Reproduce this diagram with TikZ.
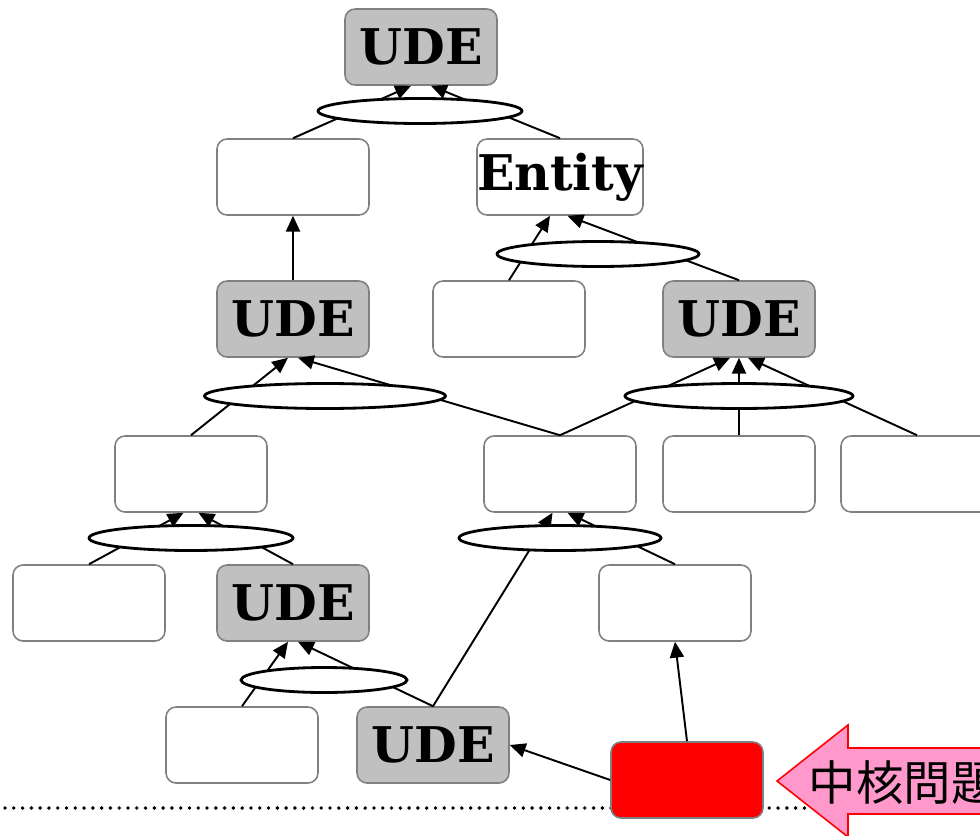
\documentclass[tikz,border=0pt]{standalone}
\usepackage{fontspec}
\setmainfont{DejaVu Serif}
\newfontfamily\cjk{Noto Sans CJK JP}
\usepackage{tikz}
\usetikzlibrary{shapes,arrows.meta,positioning}
\definecolor{boxgray}{HTML}{808080}
\definecolor{udegray}{HTML}{C0C0C0}
\definecolor{notepink}{HTML}{FF99CC}

\begin{document}
\begin{tikzpicture}[x=0.02cm, y=-0.02cm, line width=1.1pt,
	leads/.style={-{Triangle[length=9pt,width=8pt]}},
	box/.style={draw=boxgray, line width=0.9pt, rounded corners=0.2cm, fill=white, minimum width=3.04cm, minimum height=1.52cm, inner sep=0pt, font=\bfseries\fontsize{28}{30}\selectfont},
	ude/.style={box, fill=udegray},
	andlink/.style={ellipse, draw, line width=1.6pt, fill=white, inner sep=0pt, minimum height=0.5cm}]
	\useasboundingbox (0,0) rectangle (980,835);
	\draw [line width=2.2pt, line cap=round, dash pattern=on 0pt off 5pt] (5,808) -- (850,808);
	% effect-cause-effect boxes
	\node [ude] (top) at (421,47) {UDE};
	\node [box] (b1) at (293,177) {};
	\node [box] (entity) at (560,177) {Entity};
	\node [ude] (ude2) at (293,319) {UDE};
	\node [box] (b2) at (509,319) {};
	\node [ude] (ude3) at (739,319) {UDE};
	\node [box] (b3) at (191,474) {};
	\node [box] (b4) at (560,474) {};
	\node [box] (b5) at (739,474) {};
	\node [box] (b6) at (917,474) {};
	\node [box] (b7) at (89,603) {};
	\node [ude] (ude4) at (293,603) {UDE};
	\node [box] (b8) at (675,603) {};
	\node [box] (b9) at (242,745) {};
	\node [ude] (ude5) at (433,745) {UDE};
	\node [box, fill=red] (core) at (687,780) {};
	% arrows
	\draw [leads] (b1.north) -- ([xshift=-0.2cm]top.south);
	\draw [leads] (entity.north) -- ([xshift=0.2cm]top.south);
	\draw [leads] (ude2.north) -- (b1.south);
	\draw [leads] (b2.north) -- ([xshift=-0.2cm]entity.south);
	\draw [leads] (ude3.north) -- ([xshift=0.15cm]entity.south);
	\draw [leads] (b3.north) -- ([xshift=-0.1cm]ude2.south);
	\draw [leads] (b4.north) -- ([xshift=0.1cm]ude2.south);
	\draw [leads] (b4.north) -- ([xshift=-0.18cm]ude3.south);
	\draw [leads] (b5.north) -- (ude3.south);
	\draw [leads] (b6.north) -- ([xshift=0.18cm]ude3.south);
	\draw [leads] (b7.north) -- ([xshift=-0.15cm]b3.south);
	\draw [leads] (ude4.north) -- ([xshift=0.15cm]b3.south);
	\draw [leads] (ude5.north) -- ([xshift=-0.15cm]b4.south);
	\draw [leads] (b8.north) -- ([xshift=0.15cm]b4.south);
	\draw [leads] (b9.north) -- ([xshift=-0.1cm]ude4.south);
	\draw [leads] (ude5.north) -- ([xshift=0.1cm]ude4.south);
	\draw [leads] (core.west) -- (ude5.east);
	\draw [leads] (core.north) -- (b8.south);
	% and-junctions
	\node [andlink, minimum width=4.08cm] (and1) at (420,111) {};
	\node [andlink, minimum width=4.04cm] (and2) at (598,254) {};
	\node [andlink, minimum width=4.82cm] (and3) at (325,396) {};
	\node [andlink, minimum width=4.56cm] (and4) at (739,396) {};
	\node [andlink, minimum width=4.08cm] (and5) at (191,538) {};
	\node [andlink, minimum width=4.04cm] (and6) at (560,538) {};
	\node [andlink, minimum width=3.32cm] (and7) at (324,680) {};
	% core problem pointer
	\draw [fill=notepink, draw=red, line width=0.9pt] (777,781) -- (848,725) -- (848,748) -- (1100,748) -- (1100,814) -- (848,814) -- (848,837) -- cycle;
	\node [anchor=west, inner sep=0pt, font=\cjk\fontsize{27}{29}\selectfont] (corelabel) at (808,783) {中核問題};
\end{tikzpicture}
\end{document}
